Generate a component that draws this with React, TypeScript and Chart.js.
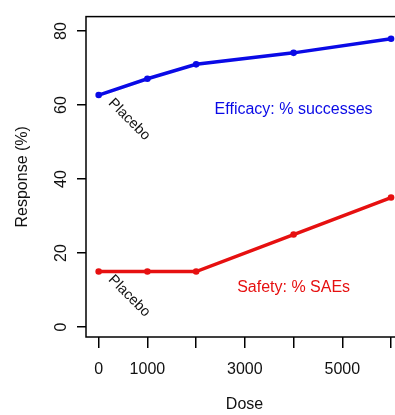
import React, { useEffect, useRef } from "react";
import { Chart, registerables } from "chart.js";

Chart.register(...registerables);

const doses = [0, 1000, 2000, 4000, 6000];
const efficacy = [62.7, 67.1, 71, 74.1, 77.9];
const safety = [15, 15, 15, 25, 35];
const xTicks = [0, 1000, 2000, 3000, 4000, 5000, 6000];
const xTickLabels = ["0", "1000", "", "3000", "", "5000", ""];
const yTicks = [0, 20, 40, 60, 80];
const yTickLabels = ["0", "20", "40", "60", "80"];
const xTitle = "Dose";
const yTitle = "Response (%)";
const efficacyLabel = "Efficacy: % successes";
const safetyLabel = "Safety: % SAEs";
const placeboLabel = "Placebo";
const efficacyLabelPos = [4000, 58.7];
const safetyLabelPos = [4000, 10.7];

const BLUE = "#0a0ae6";
const RED = "#e61010";
const FONT = "'Liberation Sans', Arial, Helvetica, sans-serif";

const annotationPlugin = {
  id: "rStyle",
  afterDatasetsDraw(chart: any) {
    const { ctx, chartArea, scales } = chart;
    const xs = scales.x;
    const ys = scales.y;
    ctx.save();
    // box
    ctx.strokeStyle = "#000";
    ctx.lineWidth = 1.5;
    ctx.strokeRect(chartArea.left, chartArea.top, chartArea.right - chartArea.left, chartArea.bottom - chartArea.top);
    // labels
    ctx.font = `16px ${FONT}`;
    ctx.textAlign = "center";
    ctx.textBaseline = "middle";
    ctx.fillStyle = BLUE;
    ctx.fillText(efficacyLabel, xs.getPixelForValue(efficacyLabelPos[0]), ys.getPixelForValue(efficacyLabelPos[1]));
    ctx.fillStyle = RED;
    ctx.fillText(safetyLabel, xs.getPixelForValue(safetyLabelPos[0]), ys.getPixelForValue(safetyLabelPos[1]));
    // placebo labels
    const drawPlacebo = (yv: number) => {
      const px = xs.getPixelForValue(doses[0]) + 12;
      const py = ys.getPixelForValue(yv) + 6;
      ctx.save();
      ctx.translate(px, py);
      ctx.rotate(Math.PI / 4);
      ctx.font = `14.5px ${FONT}`;
      ctx.fillStyle = "#111";
      ctx.textAlign = "left";
      ctx.textBaseline = "middle";
      ctx.fillText(placeboLabel, 0, 0);
      ctx.restore();
    };
    drawPlacebo(efficacy[0]);
    drawPlacebo(safety[0]);
    ctx.restore();
  },
};

export default function App() {
  const ref = useRef<HTMLCanvasElement | null>(null);
  useEffect(() => {
    if (!ref.current) return;
    const chart = new Chart(ref.current, {
      type: "line",
      data: {
        datasets: [
          {
            label: "Efficacy",
            data: doses.map((d, i) => ({ x: d, y: efficacy[i] })),
            borderColor: BLUE,
            backgroundColor: BLUE,
            borderWidth: 3.5,
            pointRadius: 3.3,
            pointBorderWidth: 0,
            tension: 0,
          },
          {
            label: "Safety",
            data: doses.map((d, i) => ({ x: d, y: safety[i] })),
            borderColor: RED,
            backgroundColor: RED,
            borderWidth: 3.5,
            pointRadius: 3.3,
            pointBorderWidth: 0,
            tension: 0,
          },
        ],
      },
      options: {
        responsive: false,
        animation: false,
        layout: { padding: { left: 0, top: 8, right: 7, bottom: 0 } },
        plugins: { legend: { display: false }, tooltip: { enabled: false } },
        scales: {
          x: {
            type: "linear",
            min: -260,
            max: 6245,
            afterBuildTicks: (s: any) => {
              s.ticks = xTicks.map((v) => ({ value: v }));
            },
            afterFit: (s: any) => {
              s.height = 78;
            },
            border: { display: false },
            grid: { drawOnChartArea: false, drawTicks: true, tickLength: 11, color: "#000", lineWidth: 1.5 },
            ticks: {
              autoSkip: false,
              maxRotation: 0,
              padding: 12,
              color: "#111",
              font: { family: FONT, size: 16 },
              callback: (v: any) => {
                const i = xTicks.indexOf(Number(v));
                return i >= 0 ? xTickLabels[i] : "";
              },
            },
            title: {
              display: true,
              text: xTitle,
              color: "#111",
              font: { family: FONT, size: 16 },
              padding: { top: 0, bottom: 1 },
            },
          },
          y: {
            type: "linear",
            min: -2.7,
            max: 83.9,
            afterBuildTicks: (s: any) => {
              s.ticks = yTicks.map((v) => ({ value: v }));
            },
            afterFit: (s: any) => {
              s.width = 86;
            },
            border: { display: false },
            grid: { drawOnChartArea: false, drawTicks: true, tickLength: 9, color: "#000", lineWidth: 1.5 },
            ticks: {
              autoSkip: false,
              minRotation: 90,
              maxRotation: 90,
              crossAlign: "center",
              padding: 7,
              color: "#111",
              font: { family: FONT, size: 16 },
              callback: (v: any) => {
                const i = yTicks.indexOf(Number(v));
                return i >= 0 ? yTickLabels[i] : "";
              },
            },
            title: {
              display: true,
              text: yTitle,
              color: "#111",
              font: { family: FONT, size: 16 },
              padding: { top: 13, bottom: 0 },
            },
          },
        },
      },
      plugins: [annotationPlugin],
    } as any);
    return () => chart.destroy();
  }, []);
  return (
    <div style={{ position: "absolute", left: 0, top: 0, width: 395, height: 415, overflow: "hidden", background: "#fff" }}>
      <canvas ref={ref} width={410} height={415} style={{ display: "block" }} />
    </div>
  );
}
